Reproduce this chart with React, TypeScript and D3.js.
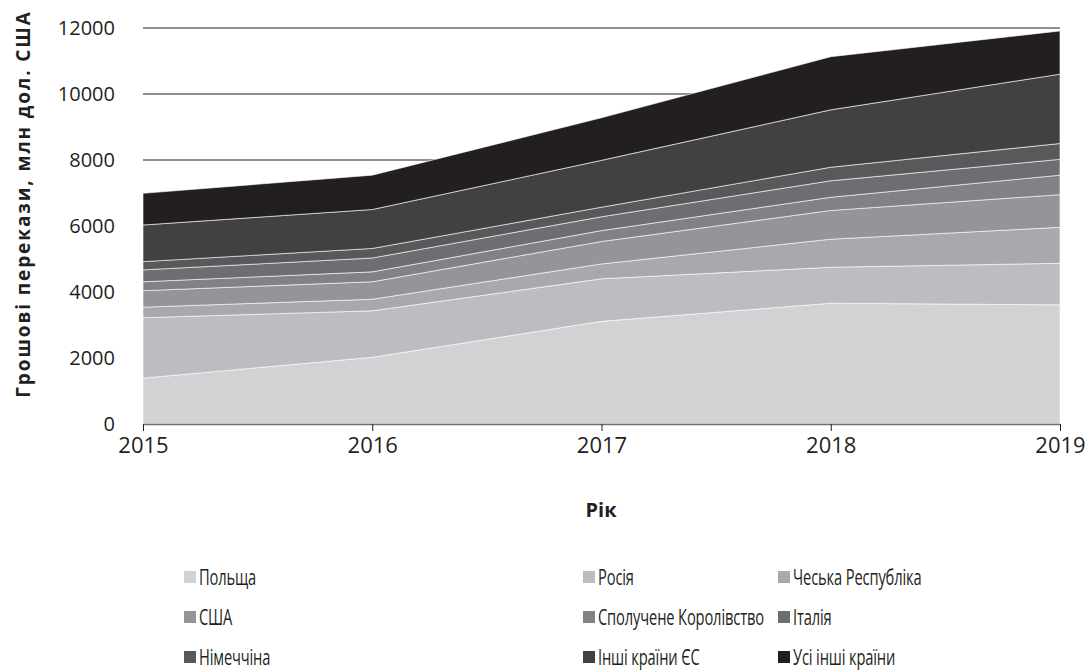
import React, { useEffect, useRef } from 'react';
import * as d3 from 'd3';

const years = [2015, 2016, 2017, 2018, 2019];
const countries = [
    'Польща',
    'Росія',
    'Чеська Республіка',
    'США',
    'Сполучене Королівство',
    'Італія',
    'Німеччіна',
    'Інші країни ЄС',
    'Усі інші країни',
];
// millions USD, per year 2015..2019
const poland = [1390, 2020, 3110, 3660, 3610];
const russia = [1830, 1410, 1290, 1090, 1260];
const czech = [320, 350, 450, 850, 1090];
const usa = [500, 530, 680, 870, 990];
const uk = [270, 300, 330, 400, 590];
const italy = [360, 420, 420, 500, 480];
const germany = [250, 290, 290, 410, 480];
const otherEU = [1110, 1180, 1420, 1740, 2100];
const allOther = [960, 1040, 1290, 1610, 1310];
const yTicks = [0, 2000, 4000, 6000, 8000, 10000, 12000];

const seriesValues = [poland, russia, czech, usa, uk, italy, germany, otherEU, allOther];
const colors = ['#d1d2d4', '#bcbdc0', '#a7a9ac', '#939598', '#808285', '#6d6e71', '#58595b', '#414042', '#231f20'];

const FONT = "'Open Sans', sans-serif";

export default function App() {
    const svgRef = useRef<SVGSVGElement>(null);

    useEffect(() => {
        if (!svgRef.current) return;
        const svg = d3.select(svgRef.current);
        svg.selectAll('*').remove();

        const margin = { left: 143, right: 25, top: 28, bottom: 246 };
        const width = 1085;
        const height = 670;

        const x = d3.scaleLinear()
            .domain([2015, 2019])
            .range([margin.left, width - margin.right]);
        const y = d3.scaleLinear()
            .domain([0, 12000])
            .range([height - margin.bottom, margin.top]);

        // rows for the stack
        const table = years.map((yr, i) => {
            const row: Record<string, number> = { year: yr };
            countries.forEach((c, k) => { row[c] = seriesValues[k][i]; });
            return row;
        });
        const stacked = d3.stack<Record<string, number>>().keys(countries)(table);

        // gridlines behind the areas
        svg.append('g')
            .selectAll('line')
            .data(yTicks.slice(1))
            .join('line')
            .attr('x1', x(2015))
            .attr('x2', x(2019))
            .attr('y1', d => y(d))
            .attr('y2', d => y(d))
            .attr('stroke', '#231f20')
            .attr('stroke-width', 1);

        const area = d3.area<d3.SeriesPoint<Record<string, number>>>()
            .x(d => x(d.data.year))
            .y0(d => y(d[0]))
            .y1(d => y(d[1]));

        svg.append('g')
            .selectAll('path')
            .data(stacked)
            .join('path')
            .attr('fill', (_, i) => colors[i])
            .attr('stroke', '#ffffff')
            .attr('stroke-width', 0.6)
            .attr('d', area);

        // x axis
        const xAxis = svg.append('g')
            .attr('transform', `translate(0,${y(0)})`)
            .call(d3.axisBottom(x).tickValues(years).tickFormat(d3.format('d')).tickSize(7).tickSizeOuter(0));
        xAxis.select('.domain').attr('stroke', '#6d6e71').attr('stroke-width', 1.5);
        xAxis.selectAll('.tick line').attr('stroke', '#231f20');
        xAxis.selectAll('text')
            .attr('fill', '#231f20')
            .attr('dy', '0.85em')
            .style('font-family', FONT)
            .style('font-size', '22px');

        // y labels
        svg.append('g')
            .selectAll('text')
            .data(yTicks)
            .join('text')
            .attr('x', 115)
            .attr('y', d => y(d))
            .attr('dy', '0.36em')
            .attr('text-anchor', 'end')
            .attr('fill', '#231f20')
            .style('font-family', FONT)
            .style('font-size', '20px')
            .text(d => d);

        // axis titles
        svg.append('text')
            .attr('transform', 'rotate(-90)')
            .attr('x', -204)
            .attr('y', 30)
            .attr('text-anchor', 'middle')
            .attr('fill', '#231f20')
            .style('font-family', FONT)
            .style('font-weight', 'bold')
            .style('font-size', '19px')
            .style('letter-spacing', '1.9px')
            .text('Грошові перекази, млн дол. США');

        svg.append('text')
            .attr('x', 601)
            .attr('y', 517)
            .attr('text-anchor', 'middle')
            .attr('fill', '#231f20')
            .style('font-family', FONT)
            .style('font-weight', 'bold')
            .style('font-size', '20px')
            .text('Рік');

        // legend
        const colX = [184, 583, 778];
        const rowY = [577, 617, 657];
        const legend = svg.append('g')
            .selectAll('g')
            .data(countries)
            .join('g')
            .attr('transform', (_, i) => `translate(${colX[i % 3]},${rowY[Math.floor(i / 3)]})`);
        legend.append('rect')
            .attr('x', 0)
            .attr('y', -6)
            .attr('width', 12)
            .attr('height', 12)
            .attr('fill', (_, i) => colors[i]);
        legend.append('text')
            .attr('transform', 'translate(15,0) scale(0.7,1)')
            .attr('dy', '0.36em')
            .attr('fill', '#231f20')
            .style('font-family', FONT)
            .style('font-size', '21px')
            .style('letter-spacing', '-0.2px')
            .text(d => d);
    }, []);

    return (
        <svg
            ref={svgRef}
            width={1085}
            height={670}
            style={{ position: 'absolute', left: 0, top: 0, background: '#fff' }}
        />
    );
}
